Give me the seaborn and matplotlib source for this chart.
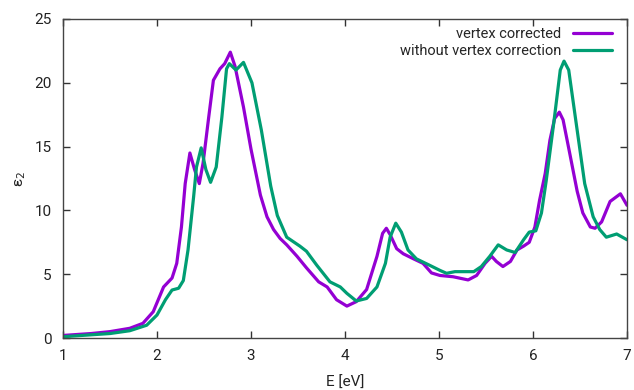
import numpy as np
import pandas as pd
import seaborn as sns
import matplotlib.pyplot as plt

# energies [eV] and eps_2 values
e_vc = [1.0, 1.3, 1.5, 1.71, 1.85, 1.96, 2.07, 2.16, 2.21, 2.26, 2.30, 2.35, 2.40,
        2.45, 2.49, 2.55, 2.60, 2.67, 2.72, 2.78, 2.83, 2.92, 3.0, 3.1, 3.17, 3.24,
        3.31, 3.38, 3.49, 3.59, 3.72, 3.81, 3.91, 4.02, 4.12, 4.23, 4.34, 4.40,
        4.44, 4.48, 4.55, 4.62, 4.73, 4.83, 4.92, 5.01, 5.15, 5.31, 5.40, 5.49,
        5.56, 5.61, 5.68, 5.76, 5.83, 5.90, 5.96, 6.02, 6.07, 6.13, 6.18, 6.23,
        6.28, 6.32, 6.39, 6.47, 6.53, 6.61, 6.66, 6.73, 6.82, 6.93, 7.0]
eps_vc = [0.2, 0.35, 0.5, 0.76, 1.15, 2.06, 4.0, 4.7, 5.85, 8.7, 12.1, 14.5, 13.2,
          12.1, 13.7, 17.3, 20.2, 21.1, 21.5, 22.4, 21.3, 18.1, 14.8, 11.2, 9.5, 8.5,
          7.8, 7.3, 6.4, 5.5, 4.4, 4.0, 3.0, 2.5, 2.85, 3.8, 6.4, 8.2,
          8.6, 8.1, 7.0, 6.6, 6.2, 5.85, 5.1, 4.9, 4.8, 4.55, 4.9, 5.85,
          6.4, 6.0, 5.6, 6.0, 6.9, 7.2, 7.5, 8.7, 10.8, 12.9, 15.5, 17.2,
          17.7, 17.1, 14.5, 11.5, 9.8, 8.7, 8.6, 9.1, 10.7, 11.3, 10.4]

e_nvc = [1.0, 1.3, 1.5, 1.71, 1.89, 2.0, 2.09, 2.16, 2.23, 2.28, 2.33, 2.39, 2.42,
         2.47, 2.52, 2.57, 2.63, 2.69, 2.74, 2.77, 2.84, 2.92, 3.01, 3.11, 3.21,
         3.28, 3.38, 3.52, 3.59, 3.70, 3.84, 3.95, 4.02, 4.12, 4.23, 4.34, 4.43,
         4.48, 4.54, 4.60, 4.67, 4.76, 4.90, 5.01, 5.08, 5.17, 5.37, 5.45, 5.54,
         5.63, 5.72, 5.81, 5.90, 5.96, 6.03, 6.09, 6.14, 6.22, 6.29, 6.33, 6.38,
         6.46, 6.55, 6.64, 6.71, 6.78, 6.89, 7.0]
eps_nvc = [0.1, 0.25, 0.35, 0.57, 1.0, 1.8, 3.0, 3.76, 3.9, 4.5, 6.9, 11.1, 13.4,
           14.9, 13.2, 12.2, 13.4, 17.3, 21.1, 21.5, 21.0, 21.6, 20.0, 16.3, 11.9,
           9.6, 7.9, 7.2, 6.8, 5.7, 4.4, 4.0, 3.5, 2.9, 3.1, 4.0, 5.85,
           7.9, 9.0, 8.3, 6.9, 6.2, 5.7, 5.3, 5.07, 5.2, 5.2, 5.6, 6.4,
           7.3, 6.9, 6.7, 7.7, 8.3, 8.4, 9.8, 12.3, 16.8, 21.0, 21.7, 21.0,
           16.8, 12.1, 9.5, 8.5, 7.9, 8.15, 7.7]

labels = ['vertex corrected', 'without vertex correction']
colors = ['#9400D3', '#009E73']

df = pd.concat([
    pd.DataFrame({'E': e_vc, 'eps': eps_vc, 'kind': labels[0]}),
    pd.DataFrame({'E': e_nvc, 'eps': eps_nvc, 'kind': labels[1]}),
])

sns.set_theme(style='ticks')
plt.rcParams['font.family'] = ['Roboto', 'DejaVu Sans']

fig = plt.figure(figsize=(6.34, 3.9), dpi=100)
ax = fig.add_axes([63 / 634, 1 - 338 / 390, (627 - 63) / 634, (338 - 19) / 390])

sns.lineplot(data=df, x='E', y='eps', hue='kind', palette=colors, linewidth=2.3,
             sort=False, estimator=None, ax=ax)
for ln in ax.get_lines():
    ln.set_solid_joinstyle('round')

ax.set_xlim(1, 7)
ax.set_ylim(0, 25)
ax.set_xticks(range(1, 8))
ax.set_yticks(range(0, 26, 5))
ax.tick_params(direction='in', top=True, right=True, length=5, width=1,
               color='#333333', labelsize=11, labelcolor='#222222', pad=8)
for s in ax.spines.values():
    s.set_color('#444444')
    s.set_linewidth(1)

ax.set_xlabel('E [eV]', fontsize=11, color='#222222', labelpad=9)
ax.set_ylabel('ε$_2$', fontsize=11, color='#222222', labelpad=5)

ax.legend(loc='upper right', bbox_to_anchor=(0.979, 0.985), frameon=False,
          markerfirst=False, fontsize=10.5, handlelength=2.7, borderaxespad=0,
          labelspacing=0.2, borderpad=0.2)

fig.savefig('out.png', dpi=100)
